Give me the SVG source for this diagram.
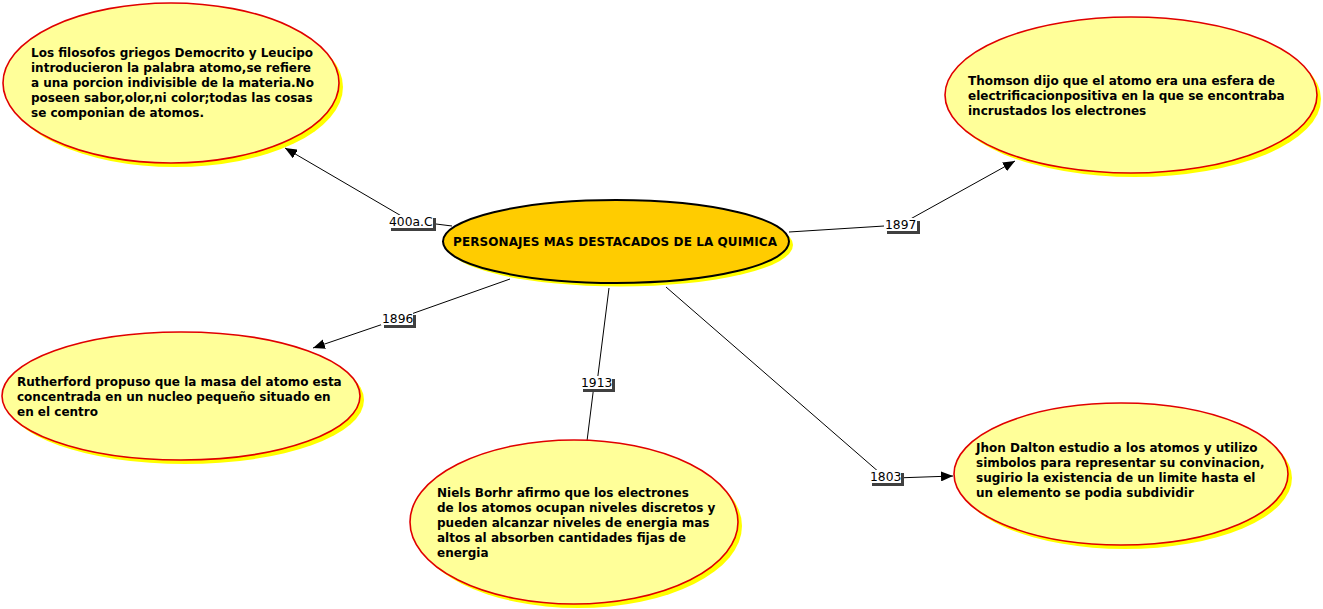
<svg xmlns="http://www.w3.org/2000/svg" width="1323" height="609" viewBox="0 0 1323 609">
<defs>
<style>
.sh{fill:#FFFF00;stroke:none}
.nd{fill:#FFFF99;stroke:#E00000;stroke-width:1.6}
.ctr{fill:#FFCC00;stroke:#000;stroke-width:2}
.t{font-family:"DejaVu Sans",Verdana,sans-serif;font-weight:bold;font-size:12px;fill:#000}
.lb{font-family:"DejaVu Sans",Verdana,sans-serif;font-size:12.3px;fill:#000}
.lbox{fill:#fff}
.lsh{fill:#404040}
.c{stroke:#000;stroke-width:1;fill:none}
</style>
<marker id="arr" viewBox="0 0 12 10" refX="12" refY="5" markerWidth="12" markerHeight="10" markerUnits="userSpaceOnUse" orient="auto"><path d="M0,0 L12,5 L0,10 z" fill="#000"/></marker>
</defs>
<rect width="1323" height="609" fill="#fff"/>

<g id="connectors">
<line class="c" x1="452" y1="226" x2="420" y2="222"/>
<line class="c" x1="410" y1="221" x2="285" y2="148" marker-end="url(#arr)"/>
<line class="c" x1="789" y1="232" x2="900" y2="225"/>
<line class="c" x1="905" y1="222" x2="1015" y2="161" marker-end="url(#arr)"/>
<line class="c" x1="510" y1="279" x2="400" y2="318"/>
<line class="c" x1="395" y1="320" x2="313" y2="348" marker-end="url(#arr)"/>
<line class="c" x1="609" y1="288" x2="597" y2="383"/>
<line class="c" x1="594" y1="385" x2="587" y2="441"/>
<line class="c" x1="666" y1="287" x2="880" y2="473"/>
<line class="c" x1="895" y1="478" x2="953" y2="476" marker-end="url(#arr)"/>
</g>

<g id="label-400aC">
<rect class="lsh" x="391" y="218" width="45" height="13"/>
<rect class="lbox" x="388" y="215" width="45" height="13"/>
<text class="lb" x="389" y="226">400a.C</text>
</g>
<g id="label-1897">
<rect class="lsh" x="887" y="221" width="33" height="13"/>
<rect class="lbox" x="884" y="218" width="33" height="13"/>
<text class="lb" x="885" y="229">1897</text>
</g>
<g id="label-1896">
<rect class="lsh" x="384" y="315" width="32" height="13"/>
<rect class="lbox" x="381" y="312" width="32" height="13"/>
<text class="lb" x="382" y="323">1896</text>
</g>
<g id="label-1913">
<rect class="lsh" x="583" y="379" width="32" height="13"/>
<rect class="lbox" x="580" y="376" width="32" height="13"/>
<text class="lb" x="581" y="387">1913</text>
</g>
<g id="label-1803">
<rect class="lsh" x="872" y="473" width="32" height="13"/>
<rect class="lbox" x="869" y="470" width="32" height="13"/>
<text class="lb" x="870" y="481">1803</text>
</g>

<g id="node-center">
<ellipse class="sh" cx="620" cy="245" rx="173" ry="41.5"/>
<ellipse class="ctr" cx="616" cy="241.5" rx="173" ry="41.5"/>
<text class="t" x="453" y="246" textLength="324" lengthAdjust="spacing">PERSONAJES MAS DESTACADOS DE LA QUIMICA</text>
</g>

<g id="node-democrito">
<ellipse class="sh" cx="175" cy="87" rx="168" ry="80"/>
<ellipse class="nd" cx="171" cy="83" rx="168" ry="80"/>
<text class="t" x="31" y="57">Los filosofos griegos Democrito y Leucipo</text>
<text class="t" x="31" y="72">introducieron la palabra atomo,se refiere</text>
<text class="t" x="31" y="87">a una porcion indivisible de la materia.No</text>
<text class="t" x="31" y="102">poseen sabor,olor,ni color;todas las cosas</text>
<text class="t" x="31" y="117">se componian de atomos.</text>
</g>

<g id="node-thomson">
<ellipse class="sh" cx="1135" cy="99" rx="186" ry="78"/>
<ellipse class="nd" cx="1131" cy="95" rx="186" ry="78"/>
<text class="t" x="968" y="85">Thomson dijo que el atomo era una esfera de</text>
<text class="t" x="968" y="100">electrificacionpositiva en la que se encontraba</text>
<text class="t" x="968" y="115">incrustados los electrones</text>
</g>

<g id="node-rutherford">
<ellipse class="sh" cx="185" cy="400" rx="179" ry="64"/>
<ellipse class="nd" cx="181" cy="396" rx="179" ry="64"/>
<text class="t" x="17" y="386">Rutherford propuso que la masa del atomo esta</text>
<text class="t" x="17" y="401">concentrada en un nucleo pequeño situado en</text>
<text class="t" x="17" y="416">en el centro</text>
</g>

<g id="node-bohr">
<ellipse class="sh" cx="578" cy="526" rx="164" ry="82"/>
<ellipse class="nd" cx="574" cy="522" rx="164" ry="82"/>
<text class="t" x="437" y="497">Niels Borhr afirmo que los electrones</text>
<text class="t" x="437" y="512">de los atomos ocupan niveles discretos y</text>
<text class="t" x="437" y="527">pueden alcanzar niveles de energia mas</text>
<text class="t" x="437" y="542">altos al absorben cantidades fijas de</text>
<text class="t" x="437" y="557">energia</text>
</g>

<g id="node-dalton">
<ellipse class="sh" cx="1125" cy="478" rx="167" ry="71"/>
<ellipse class="nd" cx="1121" cy="474" rx="167" ry="71"/>
<text class="t" x="976" y="452">Jhon Dalton estudio a los atomos y utilizo</text>
<text class="t" x="976" y="467">simbolos para representar su convinacion,</text>
<text class="t" x="976" y="482">sugirio la existencia de un limite hasta el</text>
<text class="t" x="976" y="497">un elemento se podia subdividir</text>
</g>
</svg>
